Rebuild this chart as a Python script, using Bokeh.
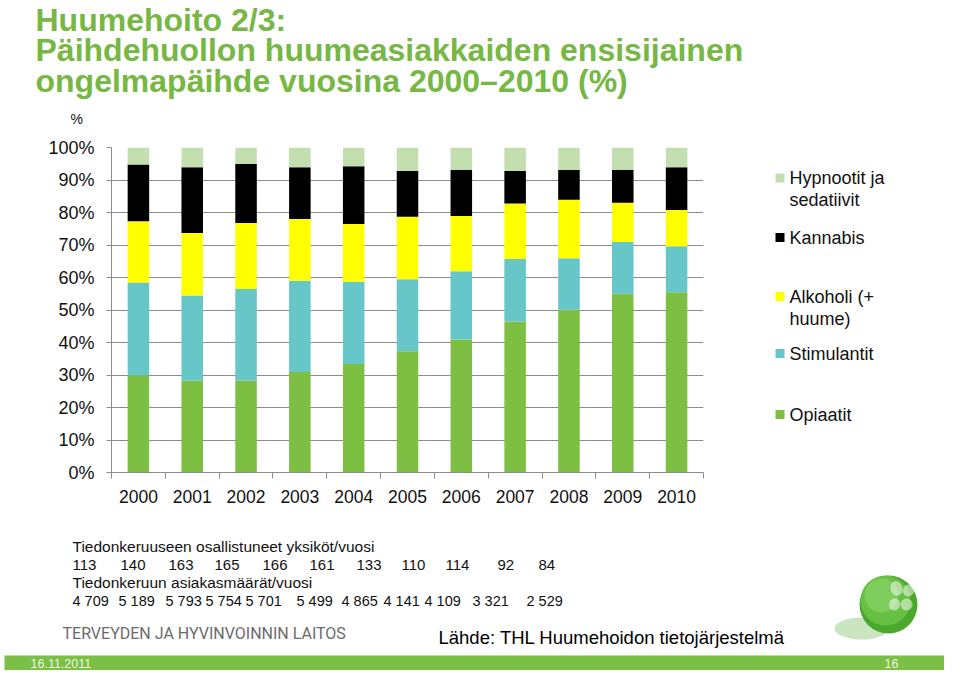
from bokeh.plotting import figure
from bokeh.models import (ColumnDataSource, FixedTicker, PrintfTickFormatter, CustomJSTickFormatter,
                          Range1d)
from bokeh.layouts import column, row
from bokeh.core.properties import value
from bokeh.embed import file_html
from bokeh.resources import INLINE

# ---------------- data ----------------
years = ["2000", "2001", "2002", "2003", "2004", "2005", "2006", "2007", "2008", "2009", "2010"]
opiaatit = [29.9, 28.3, 28.3, 30.9, 33.4, 37.3, 40.9, 46.5, 50.1, 55.0, 55.5]
stimulantit = [28.6, 26.2, 28.2, 28.1, 25.3, 22.2, 21.0, 19.2, 15.8, 15.9, 14.1]
alkoholi = [18.8, 19.2, 20.3, 19.0, 17.8, 19.2, 17.0, 17.1, 18.0, 12.1, 11.2]
kannabis = [17.5, 20.2, 18.1, 15.9, 17.7, 14.1, 14.2, 10.0, 9.2, 10.1, 13.1]
hypnootit = [5.2, 6.1, 5.1, 6.1, 5.8, 7.2, 6.9, 7.2, 6.9, 6.9, 6.1]

series_names = ["Opiaatit", "Stimulantit", "Alkoholi (+ huume)", "Kannabis", "Hypnootit ja sedatiivit"]
yksikot = [113, 140, 163, 165, 166, 161, 133, 110, 114, 92, 84]
asiakkaat = ["4 709", "5 189", "5 793", "5 754", "5 701", "5 499", "4 865", "4 141", "4 109", "3 321", "2 529"]
y_ticks = [0, 10, 20, 30, 40, 50, 60, 70, 80, 90, 100]

# ---------------- styles / layout ----------------
colors = ["#7DBF43", "#66C6C8", "#FFFF00", "#000000", "#C3DFB0"]
title_green = "#76B843"
band_green = "#7BBF44"
FONT = "Liberation Sans"
grey = "#8C8C8C"

W, H = 944, 670
TOP_H = 130          # title strip
MID_B = 520          # bottom of chart strip
CHART_W = 760
FL, FT, FR, FB = 111, 147, 703, 472   # plot frame (picture px)


def canvas(x0, x1, y0, y1, fy0=None, fy1=None):
    """A blank figure whose data coordinates are picture pixels (y grows downward)."""
    fy0 = y0 if fy0 is None else fy0
    fy1 = y1 if fy1 is None else fy1
    f = figure(width=x1 - x0, height=y1 - y0, output_backend="svg", toolbar_location=None,
               x_range=Range1d(x0, x1), y_range=Range1d(fy1, fy0),
               x_axis_location=None, y_axis_location=None, min_border=0,
               min_border_top=fy0 - y0, min_border_bottom=y1 - fy1)
    f.outline_line_color = None
    f.grid.visible = False
    f.background_fill_color = "white"
    f.border_fill_color = "white"
    return f


def txt(f, x, y, text, size="13px", color="#111111", bold=False, font=FONT, align="left"):
    f.text(x=[x], y=[y], text=[text], text_font=value(font), text_font_size=size,
           text_color=color, text_font_style="bold" if bold else "normal",
           text_baseline="middle", text_align=align)


# ---- title strip ----
top = canvas(0, W, 0, TOP_H)
txt(top, 35, 19, "Huumehoito 2/3:", "32px", title_green, bold=True)
txt(top, 35, 49.5, "Päihdehuollon huumeasiakkaiden ensisijainen", "32px", title_green, bold=True)
txt(top, 35, 80, "ongelmapäihde vuosina 2000\u20132010 (%)", "32px", title_green, bold=True)
txt(top, 70, 118, "%", "14px")

# ---- chart ----
src = dict(x=[i + 0.5 for i in range(len(years))],
           s0=opiaatit, s1=stimulantit, s2=alkoholi, s3=kannabis, s4=hypnootit)
source = ColumnDataSource(src)

p = figure(width=CHART_W, height=MID_B - TOP_H, output_backend="svg", toolbar_location=None,
           x_range=Range1d(0, len(years)), y_range=Range1d(0, 100),
           min_border_left=FL, min_border_top=FT - TOP_H,
           min_border_right=CHART_W - FR, min_border_bottom=MID_B - FB)
p.outline_line_color = None
p.background_fill_color = "white"
p.border_fill_color = "white"

p.vbar_stack(["s0", "s1", "s2", "s3", "s4"], x="x", width=0.4, color=colors,
             line_color=None, source=source)

p.xgrid.visible = False
p.ygrid.grid_line_color = grey
p.ygrid.ticker = FixedTicker(ticks=y_ticks)

p.yaxis.ticker = FixedTicker(ticks=y_ticks)
p.yaxis.formatter = PrintfTickFormatter(format="%d%%")
p.yaxis.axis_line_color = grey
p.yaxis.major_tick_line_color = grey
p.yaxis.major_tick_out = 5
p.yaxis.major_tick_in = 0
p.yaxis.minor_tick_line_color = None
p.yaxis.major_label_standoff = 12
p.yaxis.major_label_text_font = FONT
p.yaxis.major_label_text_font_size = "18px"
p.yaxis.major_label_text_color = "#111111"

p.xaxis.ticker = FixedTicker(ticks=[i + 0.5 for i in range(len(years))],
                             minor_ticks=list(range(len(years) + 1)))
p.xaxis.formatter = CustomJSTickFormatter(args=dict(years=years),
                                          code="return years[Math.floor(tick)];")
p.xaxis.axis_line_color = grey
p.xaxis.major_tick_out = 0
p.xaxis.major_tick_in = 0
p.xaxis.minor_tick_out = 6
p.xaxis.minor_tick_in = 0
p.xaxis.minor_tick_line_color = grey
p.xaxis.major_label_standoff = 11
p.xaxis.major_label_text_font = FONT
p.xaxis.major_label_text_font_size = "17.5px"
p.xaxis.major_label_text_color = "#111111"

# ---- legend (frame aligned with the chart frame) ----
leg = canvas(CHART_W, W, TOP_H, MID_B, FT, FB)
legend_rows = [
    (4, ["Hypnootit ja", "sedatiivit"], 177.5),
    (3, ["Kannabis"], 237),
    (2, ["Alkoholi (+", "huume)"], 296),
    (1, ["Stimulantit"], 353),
    (0, ["Opiaatit"], 414),
]
for idx, lines, yc in legend_rows:
    leg.quad(left=[775], right=[784], top=[yc - 4.5], bottom=[yc + 4.5],
             fill_color=colors[idx], line_color=None)
    for k, t in enumerate(lines):
        txt(leg, 789, yc + k * 22, t, "18px")

# ---- bottom strip ----
bot = canvas(0, W, MID_B, H)
txt(bot, 72, 546, "Tiedonkeruuseen osallistuneet yksiköt/vuosi", "15.5px")
row1_x = [72, 120, 168, 214, 262, 309, 356, 401, 445, 497, 538]
for xv, v in zip(row1_x, yksikot):
    txt(bot, xv, 564, str(v), "15px")
txt(bot, 72, 582, "Tiedonkeruun asiakasmäärät/vuosi", "15.5px")
row2_x = [72, 118, 165, 205, 245, 296, 341, 383, 424, 472, 526]
for xv, v in zip(row2_x, asiakkaat):
    txt(bot, xv, 600, v, "14.5px")

txt(bot, 62, 633, "TERVEYDEN JA HYVINVOINNIN LAITOS", "16px", "#6B6B6B", font="Roboto")
txt(bot, 438, 637, "Lähde:  THL Huumehoidon tietojärjestelmä", "18.5px", "#000000")

bot.quad(left=[4], right=[W], top=[655], bottom=[H], fill_color=band_green, line_color=None)
txt(bot, 30, 663, "16.11.2011", "12.5px", "#EEF7E6")
txt(bot, 884, 663, "16", "12.5px", "#EEF7E6")

# logo: glossy green sphere with a shadow and a light flower highlight
bot.ellipse(x=[861], y=[628], width=54, height=22, fill_color="#9FD08A", fill_alpha=0.55, line_color=None)
bot.circle(x=[888], y=[604], radius=29, fill_color="#4AA82C", line_color=None)
bot.circle(x=[885], y=[600], radius=25, fill_color="#66C043", line_color=None)
bot.circle(x=[881], y=[595], radius=17, fill_color="#86D063", fill_alpha=0.8, line_color=None)
bot.ellipse(x=[896, 908, 906, 894], y=[588, 590, 604, 604], width=[12, 11, 12, 11],
            height=[15, 12, 12, 12], angle=[0.3, -0.4, 0.4, -0.3],
            fill_color="#FFFFFF", fill_alpha=0.5, line_color=None)

layout = column(top, row(p, leg), bot)
open("out.html", "w").write(file_html(layout, INLINE))
